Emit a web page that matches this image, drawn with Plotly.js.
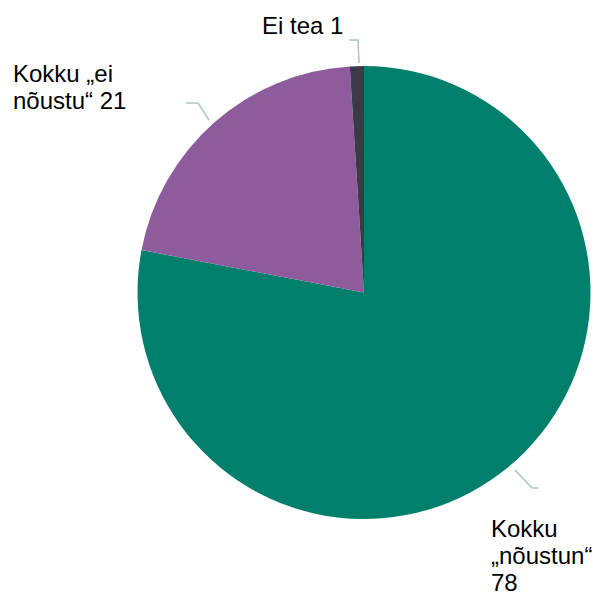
<!DOCTYPE html>
<html>
<head>
<meta charset="utf-8">
<script src="https://cdn.plot.ly/plotly-3.0.1.min.js"></script>
<style>html,body{margin:0;padding:0;background:#fff}#chart{width:594px;height:594px}</style>
</head>
<body>
<div id="chart"></div>
<script>
const labels = ["Kokku „nõustun“", "Kokku „ei nõustu“", "Ei tea"];
const values = [78, 21, 1];
const labelLines = [["Kokku", "„nõustun“", "78"], ["Kokku „ei", "nõustu“ 21"], ["Ei tea 1"]];
const colors = ["#00806c", "#8e5b9c", "#3b3b45"];

const W = 594, H = 594;
const px = x => x / W, py = y => 1 - y / H;

// left edge and first-line baseline of each label block (pixels)
const labelPos = [
  {x: 490, y: 537},
  {x: 12, y: 82},
  {x: 261, y: 34}
];
const lineGap = 27;
const fontSize = 24;
const leaders = [
  [[515, 470], [532, 488], [538, 488]],
  [[209, 120], [198, 103], [186, 103]],
  [[359, 63], [358, 40], [349, 40]]
];

const annotations = [];
labelLines.forEach((lines, i) => {
  lines.forEach((ln, j) => {
    const base = labelPos[i].y + j * lineGap;
    annotations.push({
      text: ln,
      x: px(labelPos[i].x), y: py(base - fontSize * 0.36),
      xref: "paper", yref: "paper",
      xanchor: "left", yanchor: "middle", align: "left",
      showarrow: false, borderpad: 0,
      font: {family: "Liberation Sans, Arial, sans-serif", size: fontSize, color: "#000"}
    });
  });
});

const shapes = leaders.map(pts => ({
  type: "path", xref: "paper", yref: "paper",
  path: "M " + pts.map(p => px(p[0]) + "," + py(p[1])).join(" L "),
  line: {color: "#a7c7c6", width: 1.5}
}));

Plotly.newPlot("chart", [{
  type: "pie",
  labels: labels,
  values: values,
  marker: {colors: colors, line: {width: 0}},
  sort: false,
  direction: "clockwise",
  rotation: 0,
  textinfo: "none",
  hoverinfo: "label+value",
  domain: {x: [px(137), px(591)], y: [py(519), py(66)]},
  showlegend: false
}], {
  width: W, height: H,
  margin: {l: 0, r: 0, t: 0, b: 0},
  paper_bgcolor: "#fff",
  plot_bgcolor: "#fff",
  annotations: annotations,
  shapes: shapes,
  showlegend: false
}, {displayModeBar: false, staticPlot: true});
</script>
</body>
</html>
